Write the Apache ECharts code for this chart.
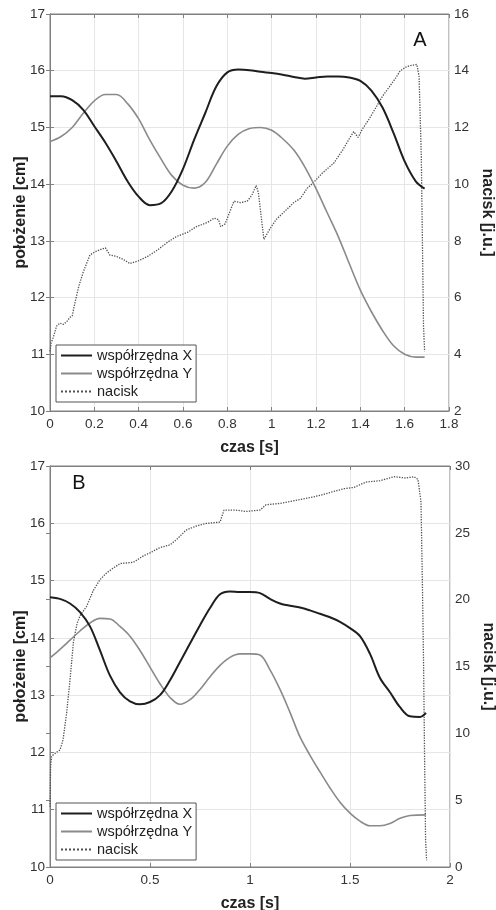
<!DOCTYPE html>
<html><head><meta charset="utf-8">
<script src="https://cdn.jsdelivr.net/npm/echarts@6/dist/echarts.min.js"></script>
<style>html,body{margin:0;padding:0;background:#fff}#c{width:496px;height:910px}</style>
</head><body><div id="c"></div>
<script>
// ---- Chart A data ----
const tA_X = [0, 0.05, 0.1, 0.15, 0.2, 0.25, 0.3, 0.35, 0.4, 0.45, 0.5, 0.55, 0.6, 0.65, 0.7, 0.75, 0.8, 0.85, 0.9, 0.95, 1.0, 1.05, 1.1, 1.15, 1.2, 1.25, 1.3, 1.35, 1.4, 1.45, 1.5, 1.55, 1.6, 1.65, 1.69];
const vA_X = [15.55, 15.55, 15.48, 15.31, 15.02, 14.73, 14.4, 14.05, 13.78, 13.63, 13.66, 13.88, 14.27, 14.78, 15.25, 15.72, 15.97, 16.02, 16.01, 15.98, 15.96, 15.93, 15.89, 15.86, 15.88, 15.9, 15.9, 15.88, 15.82, 15.65, 15.35, 14.9, 14.4, 14.05, 13.92];
const tA_Y = [0, 0.05, 0.1, 0.15, 0.2, 0.25, 0.3, 0.35, 0.4, 0.45, 0.5, 0.55, 0.6, 0.65, 0.7, 0.75, 0.8, 0.85, 0.9, 0.95, 1.0, 1.05, 1.1, 1.15, 1.2, 1.25, 1.3, 1.35, 1.4, 1.45, 1.5, 1.55, 1.6, 1.65, 1.69];
const vA_Y = [14.75, 14.84, 15.0, 15.25, 15.47, 15.58, 15.58, 15.42, 15.15, 14.78, 14.45, 14.15, 13.98, 13.93, 14.03, 14.35, 14.67, 14.88, 14.98, 15.0, 14.95, 14.8, 14.6, 14.3, 13.92, 13.5, 13.08, 12.6, 12.13, 11.75, 11.42, 11.15, 11.0, 10.95, 10.95];
const tA_P = [0, 0.005, 0.015, 0.03, 0.045, 0.06, 0.075, 0.09, 0.1, 0.115, 0.13, 0.15, 0.165, 0.18, 0.2, 0.23, 0.25, 0.27, 0.3, 0.33, 0.36, 0.4, 0.44, 0.48, 0.53, 0.57, 0.62, 0.66, 0.71, 0.74, 0.76, 0.77, 0.79, 0.83, 0.86, 0.89, 0.91, 0.93, 0.94, 0.965, 0.99, 1.02, 1.06, 1.1, 1.13, 1.16, 1.19, 1.23, 1.28, 1.32, 1.35, 1.37, 1.39, 1.41, 1.44, 1.47, 1.5, 1.53, 1.56, 1.58, 1.61, 1.64, 1.655, 1.665, 1.675, 1.68, 1.685, 1.69];
const vA_P = [4.1, 4.4, 4.6, 5.0, 5.1, 5.05, 5.15, 5.3, 5.35, 5.9, 6.4, 6.9, 7.2, 7.5, 7.6, 7.7, 7.75, 7.5, 7.45, 7.35, 7.2, 7.3, 7.45, 7.65, 7.95, 8.15, 8.3, 8.5, 8.65, 8.8, 8.75, 8.5, 8.6, 9.4, 9.35, 9.4, 9.6, 9.95, 9.7, 8.05, 8.4, 8.75, 9.05, 9.35, 9.5, 9.85, 10.07, 10.4, 10.74, 11.2, 11.6, 11.85, 11.65, 11.95, 12.3, 12.7, 13.1, 13.42, 13.75, 14.0, 14.15, 14.2, 14.22, 13.8, 11, 8, 5, 4.1];
// ---- Chart B data ----
const tB_X = [0, 0.05, 0.1, 0.15, 0.2, 0.25, 0.3, 0.35, 0.4, 0.45, 0.5, 0.55, 0.6, 0.65, 0.7, 0.75, 0.8, 0.85, 0.9, 0.95, 1.0, 1.05, 1.1, 1.15, 1.2, 1.25, 1.3, 1.35, 1.4, 1.45, 1.5, 1.55, 1.6, 1.65, 1.7, 1.75, 1.8, 1.85, 1.88];
const vB_X = [14.71, 14.68, 14.6, 14.45, 14.2, 13.78, 13.34, 13.05, 12.89, 12.84, 12.88, 13.0, 13.26, 13.58, 13.9, 14.22, 14.52, 14.76, 14.81, 14.8, 14.8, 14.78, 14.68, 14.6, 14.56, 14.53, 14.48, 14.42, 14.36, 14.28, 14.17, 14.03, 13.72, 13.3, 13.05, 12.79, 12.63, 12.62, 12.69];
const tB_Y = [0, 0.05, 0.1, 0.15, 0.2, 0.25, 0.3, 0.35, 0.4, 0.45, 0.5, 0.55, 0.6, 0.65, 0.7, 0.75, 0.8, 0.85, 0.9, 0.95, 1.0, 1.05, 1.1, 1.15, 1.2, 1.25, 1.3, 1.35, 1.4, 1.45, 1.5, 1.55, 1.6, 1.65, 1.7, 1.75, 1.8, 1.88];
const vB_Y = [13.65, 13.8, 13.96, 14.12, 14.26, 14.34, 14.33, 14.2, 14.03, 13.78, 13.49, 13.2, 12.96, 12.84, 12.92, 13.1, 13.32, 13.52, 13.66, 13.72, 13.72, 13.7, 13.44, 13.1, 12.7, 12.27, 11.95, 11.66, 11.38, 11.13, 10.94, 10.8, 10.72, 10.72, 10.76, 10.85, 10.9, 10.91];
const tB_P = [0, 0.003, 0.008, 0.017, 0.035, 0.05, 0.065, 0.083, 0.1, 0.117, 0.135, 0.15, 0.183, 0.217, 0.25, 0.283, 0.32, 0.35, 0.417, 0.47, 0.5, 0.55, 0.6, 0.633, 0.68, 0.73, 0.78, 0.85, 0.87, 0.93, 0.98, 1.05, 1.08, 1.15, 1.22, 1.29, 1.35, 1.42, 1.47, 1.52, 1.58, 1.65, 1.72, 1.78, 1.82, 1.84, 1.855, 1.862, 1.868, 1.873, 1.878, 1.883];
const vB_P = [4.5, 7.5, 8.3, 8.3, 8.6, 8.75, 9.5, 11.5, 14.0, 16.8, 18.2, 18.8, 19.5, 20.7, 21.5, 22.0, 22.4, 22.7, 22.8, 23.3, 23.5, 23.9, 24.1, 24.5, 25.2, 25.5, 25.7, 25.8, 26.7, 26.7, 26.6, 26.7, 27.1, 27.2, 27.4, 27.6, 27.8, 28.1, 28.3, 28.4, 28.8, 28.9, 29.2, 29.1, 29.2, 29.0, 27.3, 21.2, 15, 8, 2, 0.5];
const seriesNames = ['współrzędna X', 'współrzędna Y', 'nacisk'];
const xName = 'czas [s]', yLeftName = 'położenie [cm]', yRightName = 'nacisk [j.u.]';
const panelLabels = ['A', 'B'];

const FONT = 'Liberation Sans';
const zip = (t, v) => t.map((x, i) => [x, v[i]]);
const axisCol = '#808080';
function xAx(grid, max, interval, top) {
  return {
    type: 'value', gridIndex: grid, min: 0, max: max, interval: interval,
    position: top ? 'top' : 'bottom',
    name: top ? '' : xName, nameLocation: 'middle', nameGap: 29, nameMoveOverlap: false,
    nameTextStyle: { fontFamily: FONT, fontWeight: 'bold', fontSize: 16, color: '#222' },
    axisLine: { show: true, onZero: false, lineStyle: { color: axisCol } },
    axisTick: { show: true, inside: true, length: 4, lineStyle: { color: axisCol } },
    axisLabel: { show: !top, fontFamily: FONT, fontSize: 13.5, color: '#333', margin: 6 },
    splitLine: { show: !top, lineStyle: { color: '#e6e6e6' } }
  };
}
function yAx(grid, min, max, interval, right) {
  return {
    type: 'value', gridIndex: grid, min: min, max: max, interval: interval,
    position: right ? 'right' : 'left',
    name: right ? yRightName : yLeftName, nameLocation: 'middle', nameMoveOverlap: false,
    nameGap: right ? 30 : 21, nameRotate: right ? -90 : 90,
    nameTextStyle: { fontFamily: FONT, fontWeight: 'bold', fontSize: 16, color: '#222' },
    axisLine: { show: true, lineStyle: { color: axisCol } },
    axisTick: { show: true, inside: true, length: 4, lineStyle: { color: axisCol } },
    axisLabel: { fontFamily: FONT, fontSize: 13.5, color: '#333', margin: 5 },
    splitLine: { show: !right, lineStyle: { color: '#e6e6e6' } }
  };
}
function lines(xi, yl, yr, dX, dY, dP) {
  return [
    { name: seriesNames[0], type: 'line', xAxisIndex: xi, yAxisIndex: yl, data: dX, symbol: 'none', smooth: 0.35,
      lineStyle: { color: '#1e1e1e', width: 2 }, itemStyle: { color: '#1e1e1e' }, z: 4 },
    { name: seriesNames[1], type: 'line', xAxisIndex: xi, yAxisIndex: yl, data: dY, symbol: 'none', smooth: 0.35,
      lineStyle: { color: '#8a8a8a', width: 1.6 }, itemStyle: { color: '#8a8a8a' }, z: 3 },
    { name: seriesNames[2], type: 'line', xAxisIndex: xi, yAxisIndex: yr, data: dP, symbol: 'none',
      lineStyle: { color: '#505050', width: 1.3, type: 'dotted' }, itemStyle: { color: '#505050' }, z: 2 }
  ];
}
function legend(left, top) {
  return {
    orient: 'vertical', left: left, top: top, data: seriesNames,
    itemWidth: 31, itemHeight: 12, itemGap: 3, padding: [3, 4, 3, 4],
    backgroundColor: '#fff', borderColor: '#555', borderWidth: 1,
    itemStyle: { opacity: 0 },
    textStyle: { fontFamily: FONT, fontSize: 14.5, color: '#222' },
    selectedMode: false
  };
}
const gridBase = { show: true, borderColor: axisCol, borderWidth: 1, outerBoundsMode: 'none', containLabel: false };
const chart = echarts.init(document.getElementById('c'), null, { renderer: 'canvas' });
chart.setOption({
  animation: false,
  backgroundColor: '#fff',
  grid: [
    Object.assign({ left: 50, top: 14, width: 399, height: 397 }, gridBase),
    Object.assign({ left: 50, top: 466, width: 400, height: 401 }, gridBase)
  ],
  xAxis: [xAx(0, 1.8, 0.2, false), xAx(1, 2, 0.5, false), xAx(0, 1.8, 0.2, true), xAx(1, 2, 0.5, true)],
  yAxis: [yAx(0, 10, 17, 1, false), yAx(0, 2, 16, 2, true), yAx(1, 10, 17, 1, false), yAx(1, 0, 30, 5, true)],
  legend: [legend(56, 345), legend(56, 803)],
  series: [].concat(
    lines(0, 0, 1, zip(tA_X, vA_X), zip(tA_Y, vA_Y), zip(tA_P, vA_P)),
    lines(1, 2, 3, zip(tB_X, vB_X), zip(tB_Y, vB_Y), zip(tB_P, vB_P))
  ),
  graphic: [
    { type: 'text', x: 420, y: 40, style: { text: panelLabels[0], font: '20px "Liberation Sans"', fill: '#111', align: 'center', verticalAlign: 'middle' } },
    { type: 'text', x: 79, y: 483, style: { text: panelLabels[1], font: '20px "Liberation Sans"', fill: '#111', align: 'center', verticalAlign: 'middle' } }
  ]
});
</script></body></html>
